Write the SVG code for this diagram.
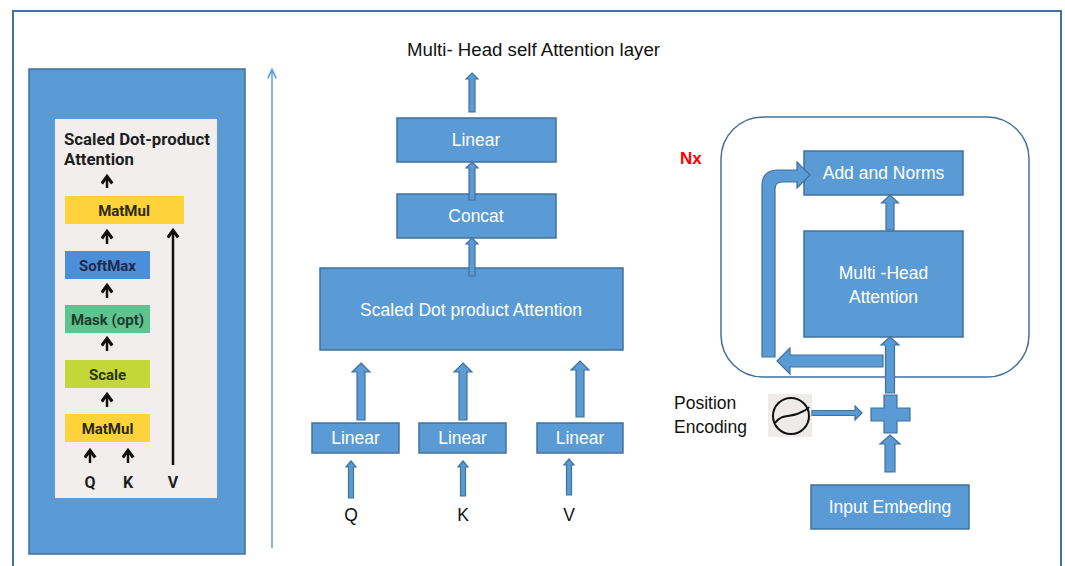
<svg xmlns="http://www.w3.org/2000/svg" width="1065" height="566" viewBox="0 0 1065 566">
<defs>
<style>
.blue{fill:#5B9BD5;stroke:#41719C;stroke-width:1.5}
.barrow{fill:#5B9BD5;stroke:#41719C;stroke-width:1.2;stroke-linejoin:miter}
.wt{font-family:"Liberation Sans",Arial,sans-serif;font-size:17.5px;fill:#FFFFFF;text-anchor:middle}
.bt{font-family:"Liberation Sans",Arial,sans-serif;font-size:17.5px;fill:#111111}
.rt{font-family:Roboto,"Liberation Sans",sans-serif;font-weight:bold;fill:#1e1e1e}
.bx{font-family:Roboto,"Liberation Sans",sans-serif;font-weight:bold;font-size:15px;text-anchor:middle}
.karrow{fill:none;stroke:#111;stroke-width:2.5}
</style>
<marker id="chev" viewBox="0 0 10 10" refX="7" refY="5" markerWidth="13" markerHeight="13" markerUnits="userSpaceOnUse" orient="auto">
<path d="M2,1 L7.5,5 L2,9" fill="none" stroke="#111" stroke-width="2.4"/>
</marker>
<marker id="thin" viewBox="0 0 10 10" refX="8" refY="5" markerWidth="12" markerHeight="12" markerUnits="userSpaceOnUse" orient="auto">
<path d="M1,1.5 L8.5,5 L1,8.5" fill="none" stroke="#5B9BD5" stroke-width="1.3"/>
</marker>
</defs>
<rect width="1065" height="566" fill="#FFFFFF"/>
<!-- outer frame -->
<rect x="13" y="11" width="1048" height="620" fill="none" stroke="#41719C" stroke-width="2"/>

<!-- left panel -->
<g id="left-panel">
<rect x="29" y="69" width="216" height="485" class="blue"/>
<rect x="55" y="119" width="162" height="379" fill="#F2EEEE"/>
<text class="rt" x="64" y="145" font-size="16.8">Scaled Dot-product</text>
<text class="rt" x="64" y="165" font-size="16.8">Attention</text>
</g>
<g id="matmul-top">
<rect x="65" y="196" width="119" height="28" fill="#FDD23A"/>
<text class="bx" x="124" y="215.5" fill="#2b2a14">MatMul</text>
</g>
<g id="softmax">
<rect x="65" y="251" width="85" height="28" fill="#4A8FD8"/>
<text class="bx" x="107.5" y="270.5" fill="#1b2a4a">SoftMax</text>
</g>
<g id="mask">
<rect x="65" y="305" width="85" height="28" fill="#5FC38F"/>
<text class="bx" x="107.5" y="324.5" fill="#1c3d2a">Mask (opt)</text>
</g>
<g id="scale">
<rect x="65" y="360" width="85" height="28" fill="#C3D838"/>
<text class="bx" x="107.5" y="379.5" fill="#2a3310">Scale</text>
</g>
<g id="matmul-bottom">
<rect x="65" y="414" width="85" height="28" fill="#FDD23A"/>
<text class="bx" x="107.5" y="433.5" fill="#2b2a14">MatMul</text>
</g>
<g id="left-labels">
<text class="rt" x="90" y="488" font-size="16" text-anchor="middle">Q</text>
<text class="rt" x="128" y="488" font-size="16" text-anchor="middle">K</text>
<text class="rt" x="173" y="488" font-size="16" text-anchor="middle">V</text>
</g>

<!-- middle nodes -->
<g id="title">
<text class="bt" x="407" y="56" font-size="18.5" textLength="253" lengthAdjust="spacingAndGlyphs">Multi- Head self Attention layer</text>
</g>
<g id="linear-top">
<rect x="397" y="118" width="159" height="44" class="blue"/>
<text class="wt" x="476" y="146">Linear</text>
</g>
<g id="concat">
<rect x="397" y="194" width="159" height="44" class="blue"/>
<text class="wt" x="476" y="222">Concat</text>
</g>
<g id="sdpa">
<rect x="320" y="268" width="303" height="82" class="blue"/>
<text class="wt" x="471" y="316">Scaled Dot product Attention</text>
</g>
<g id="linear-q">
<rect x="312" y="423" width="87" height="30" class="blue"/>
<text class="wt" x="355.5" y="444">Linear</text>
</g>
<g id="linear-k">
<rect x="419" y="423" width="87" height="30" class="blue"/>
<text class="wt" x="462.5" y="444">Linear</text>
</g>
<g id="linear-v">
<rect x="537" y="423" width="86" height="30" class="blue"/>
<text class="wt" x="580" y="444">Linear</text>
</g>
<g id="mid-labels">
<text class="bt" x="351" y="521" text-anchor="middle">Q</text>
<text class="bt" x="463" y="521" text-anchor="middle">K</text>
<text class="bt" x="569" y="521" text-anchor="middle">V</text>
</g>

<!-- right nodes -->
<g id="encoder-block">
<rect x="721" y="117" width="308" height="260" rx="42" ry="42" fill="none" stroke="#41719C" stroke-width="1.5"/>
<text x="680" y="164" font-family="'Liberation Sans',Arial,sans-serif" font-weight="bold" font-size="17" fill="#FF0000">Nx</text>
</g>
<g id="add-norms">
<rect x="804" y="151" width="159" height="44" class="blue"/>
<text class="wt" x="883.5" y="179">Add and Norms</text>
</g>
<g id="multi-head">
<rect x="804" y="231" width="159" height="106" class="blue"/>
<text class="wt" x="883.5" y="279">Multi -Head</text>
<text class="wt" x="883.5" y="303">Attention</text>
</g>
<g id="plus">
<path d="M884,395 H897 V408 H910 V421 H897 V433 H884 V421 H871 V408 H884 Z" class="barrow"/>
</g>
<g id="input-embedding">
<rect x="811" y="485" width="158" height="44" class="blue"/>
<text class="wt" x="890" y="513">Input Embeding</text>
</g>
<g id="position-encoding">
<text class="bt" x="674" y="409">Position</text>
<text class="bt" x="674" y="433">Encoding</text>
<rect x="768" y="394" width="44" height="43" fill="#EFEBEB"/>
<circle cx="791" cy="416" r="18" fill="none" stroke="#111" stroke-width="2"/>
<path d="M775,423 C781,414 789,417 797,414 C804,411 807,410 809,407" fill="none" stroke="#111" stroke-width="2"/>
</g>

<!-- connectors -->
<g id="connectors">
<line x1="107" y1="188" x2="107" y2="177" class="karrow" marker-end="url(#chev)"/>
<line x1="107" y1="244" x2="107" y2="232" class="karrow" marker-end="url(#chev)"/>
<line x1="107" y1="298" x2="107" y2="286" class="karrow" marker-end="url(#chev)"/>
<line x1="107" y1="351" x2="107" y2="339" class="karrow" marker-end="url(#chev)"/>
<line x1="107" y1="407" x2="107" y2="395" class="karrow" marker-end="url(#chev)"/>
<line x1="90" y1="463" x2="90" y2="451" class="karrow" marker-end="url(#chev)"/>
<line x1="128" y1="463" x2="128" y2="451" class="karrow" marker-end="url(#chev)"/>
<line x1="173" y1="465" x2="173" y2="231" class="karrow" marker-end="url(#chev)"/>
<line x1="272" y1="548" x2="272" y2="70" stroke="#5B9BD5" stroke-width="1.5" marker-end="url(#thin)"/>
<path class="barrow" d="M472,73 L478,79 L475,79 L475,112 L469,112 L469,79 L466,79 Z"/>
<path class="barrow" d="M472,162 L478,168 L475,168 L475,200 L469,200 L469,168 L466,168 Z"/>
<path class="barrow" d="M472,238 L478,244 L475,244 L475,276 L469,276 L469,244 L466,244 Z"/>
<path class="barrow" d="M361,363 L370,372 L365,372 L365,420 L357,420 L357,372 L352,372 Z"/>
<path class="barrow" d="M463,363 L472,372 L467,372 L467,420 L459,420 L459,372 L454,372 Z"/>
<path class="barrow" d="M580,361 L589,370 L584,370 L584,417 L576,417 L576,370 L571,370 Z"/>
<path class="barrow" d="M351,461 L356,467 L353.5,467 L353.5,498 L348.5,498 L348.5,467 L346,467 Z"/>
<path class="barrow" d="M463,461 L468,467 L465.5,467 L465.5,496 L460.5,496 L460.5,467 L458,467 Z"/>
<path class="barrow" d="M569,459 L574,465 L571.5,465 L571.5,495 L566.5,495 L566.5,465 L564,465 Z"/>
<path class="barrow" d="M890,195 L898.5,203 L894,203 L894,230 L886,230 L886,203 L881.5,203 Z"/>
<path class="barrow" d="M890,337 L899,345 L894.5,345 L894.5,393 L885.5,393 L885.5,345 L881,345 Z"/>
<path class="barrow" d="M890,435 L900,444 L895,444 L895,472 L885,472 L885,444 L880,444 Z"/>
<path class="barrow" d="M777,361 L790,348 L790,355 L883,355 L883,367 L790,367 L790,374 Z"/>
<path class="barrow" d="M762,357 L762,186 Q762,170 778,170 L797,170 L797,162 L810,175 L797,188 L797,182 L782,182 Q775,182 775,189 L775,357 Z"/>
<path class="barrow" d="M862,413 L855,406 L855,410.5 L812,410.5 L812,415.5 L855,415.5 L855,420 Z"/>
</g>
</svg>
